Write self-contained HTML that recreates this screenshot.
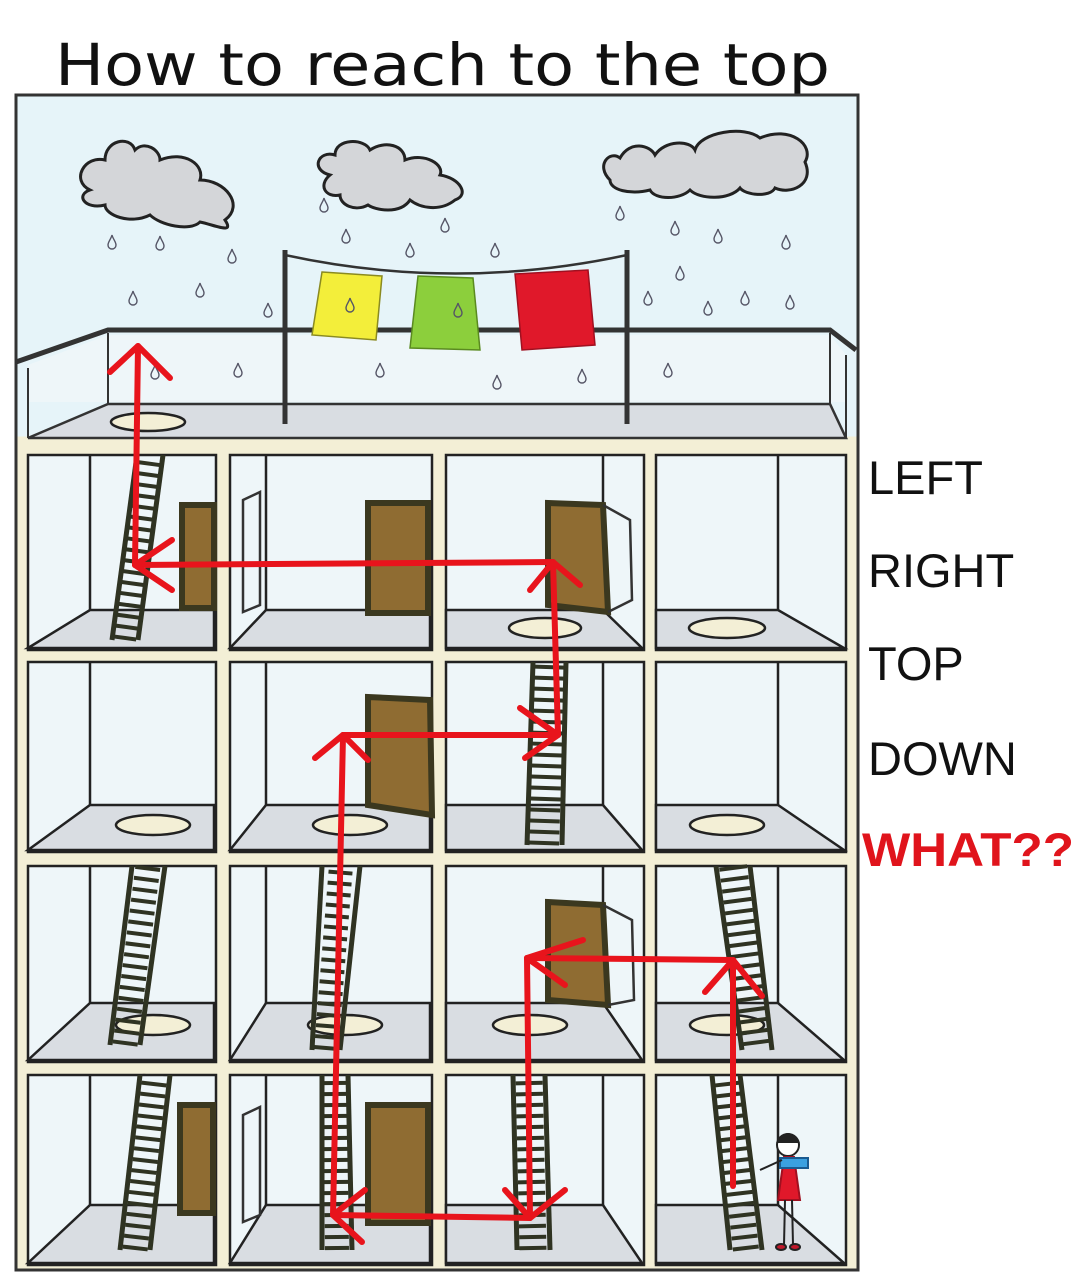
<!DOCTYPE html>
<html><head><meta charset="utf-8"><style>
html,body{margin:0;padding:0;background:#fff}
svg{display:block}
</style></head><body>
<svg width="1074" height="1280" viewBox="0 0 1074 1280" xmlns="http://www.w3.org/2000/svg" font-family="Liberation Sans, sans-serif">
<defs>
<g id="drop"><path d="M0,-7 C-1,-3 -4,0 -4,3 A4,4 0 0 0 4,3 C4,0 1,-3 0,-7Z" fill="none" stroke="#556" stroke-width="1.4"/></g>
</defs>
<rect width="1074" height="1280" fill="#fff"/>
<!-- title -->
<text x="55" y="85" font-size="58" fill="#111" textLength="775" lengthAdjust="spacingAndGlyphs" font-family="DejaVu Sans, sans-serif" font-weight="normal">How to reach to the top</text>
<!-- building -->
<rect x="16" y="95" width="842" height="1175" fill="#f3efd6" stroke="#333" stroke-width="3"/>
<rect x="17.5" y="96.5" width="839" height="340" fill="#e6f4f9"/>
<!-- clouds -->
<g fill="#d4d6d9" stroke="#222" stroke-width="3">
<path d="M90,190 C70,180 85,155 105,160 C105,140 130,135 135,150 C145,140 160,150 160,160 C185,150 205,165 200,180 C225,180 245,205 225,220 C235,235 215,225 200,222 C190,232 160,225 150,215 C130,225 105,215 105,205 C85,210 75,195 90,190Z"/>
<path d="M330,175 C310,170 318,150 335,155 C335,138 365,138 370,150 C385,140 405,145 405,160 C425,152 445,165 440,175 C460,178 470,195 455,200 C440,212 420,208 410,200 C400,215 375,210 368,205 C355,212 340,205 340,195 C325,198 318,185 330,175Z"/>
<path d="M610,180 C595,165 610,150 620,158 C630,140 650,145 655,155 C665,140 690,140 695,150 C700,132 745,125 760,138 C790,125 815,145 805,162 C815,185 790,195 775,188 C770,198 745,195 740,188 C730,200 700,200 690,190 C680,200 655,200 650,190 C630,195 610,190 610,180Z"/>
</g>
<!-- parapet -->
<polygon points="28,365 108,335 830,335 846,355 846,402 28,402" fill="#eef6f9"/>
<polyline points="16,362 108,330 830,330 856,350" fill="none" stroke="#333" stroke-width="5"/>
<line x1="108" y1="333" x2="108" y2="405" stroke="#333" stroke-width="2"/>
<line x1="830" y1="333" x2="830" y2="405" stroke="#333" stroke-width="2"/>
<line x1="28" y1="368" x2="28" y2="438" stroke="#333" stroke-width="2"/>
<line x1="846" y1="355" x2="846" y2="438" stroke="#333" stroke-width="2"/>
<polygon points="108,404 830,404 846,438 28,438" fill="#d9dde2" stroke="#333" stroke-width="2.5"/>
<ellipse cx="148" cy="422" rx="37" ry="9" fill="#f3efd6" stroke="#222" stroke-width="2.5"/>
<!-- clothesline -->
<path d="M285,255 Q455,292 627,255" fill="none" stroke="#333" stroke-width="2.5"/>
<polygon points="322,272 382,276 376,340 312,335" fill="#f3ee3a" stroke="#8a8a20" stroke-width="1.5"/>
<polygon points="418,276 473,278 480,350 410,348" fill="#8ccf3c" stroke="#5a8a20" stroke-width="1.5"/>
<polygon points="515,274 588,270 595,345 522,350" fill="#e0182a" stroke="#a01020" stroke-width="1.5"/>
<line x1="285" y1="250" x2="285" y2="424" stroke="#333" stroke-width="5"/>
<line x1="627" y1="250" x2="627" y2="424" stroke="#333" stroke-width="5"/>
<!-- drops -->
<g>
<use href="#drop" x="112" y="242"/><use href="#drop" x="160" y="243"/><use href="#drop" x="232" y="256"/>
<use href="#drop" x="133" y="298"/><use href="#drop" x="200" y="290"/><use href="#drop" x="268" y="310"/>
<use href="#drop" x="324" y="205"/><use href="#drop" x="346" y="236"/><use href="#drop" x="445" y="225"/>
<use href="#drop" x="410" y="250"/><use href="#drop" x="495" y="250"/><use href="#drop" x="350" y="305"/><use href="#drop" x="458" y="310"/>
<use href="#drop" x="620" y="213"/><use href="#drop" x="675" y="228"/><use href="#drop" x="718" y="236"/><use href="#drop" x="786" y="242"/>
<use href="#drop" x="680" y="273"/><use href="#drop" x="648" y="298"/><use href="#drop" x="708" y="308"/><use href="#drop" x="745" y="298"/><use href="#drop" x="790" y="302"/>
<use href="#drop" x="238" y="370"/><use href="#drop" x="380" y="370"/><use href="#drop" x="497" y="382"/><use href="#drop" x="582" y="376"/><use href="#drop" x="668" y="370"/><use href="#drop" x="155" y="372"/>
</g>
<!-- rooms -->
<g stroke="#222" stroke-width="2.5">
<!-- row template generated per cell -->
<!-- row1 y455-650 floor 610 -->
<rect x="28" y="455" width="188" height="195" fill="#eef6f9"/><polygon points="28,648 90,610 214,610 214,648" fill="#d9dde2"/><line x1="90" y1="455" x2="90" y2="610"/>
<rect x="230" y="455" width="202" height="195" fill="#eef6f9"/><polygon points="230,648 266,610 430,610 430,648" fill="#d9dde2"/><line x1="266" y1="455" x2="266" y2="610"/>
<rect x="446" y="455" width="198" height="195" fill="#eef6f9"/><polygon points="446,610 603,610 642,648 446,648" fill="#d9dde2"/><line x1="603" y1="455" x2="603" y2="610"/>
<rect x="656" y="455" width="190" height="195" fill="#eef6f9"/><polygon points="656,610 778,610 844,648 656,648" fill="#d9dde2"/><line x1="778" y1="455" x2="778" y2="610"/>
<!-- row2 y662-852 floor 805 -->
<rect x="28" y="662" width="188" height="190" fill="#eef6f9"/><polygon points="28,850 90,805 214,805 214,850" fill="#d9dde2"/><line x1="90" y1="662" x2="90" y2="805"/>
<rect x="230" y="662" width="202" height="190" fill="#eef6f9"/><polygon points="230,850 266,805 430,805 430,850" fill="#d9dde2"/><line x1="266" y1="662" x2="266" y2="805"/>
<rect x="446" y="662" width="198" height="190" fill="#eef6f9"/><polygon points="446,805 603,805 642,850 446,850" fill="#d9dde2"/><line x1="603" y1="662" x2="603" y2="805"/>
<rect x="656" y="662" width="190" height="190" fill="#eef6f9"/><polygon points="656,805 778,805 844,850 656,850" fill="#d9dde2"/><line x1="778" y1="662" x2="778" y2="805"/>
<!-- row3 y866-1062 floor 1003 -->
<rect x="28" y="866" width="188" height="196" fill="#eef6f9"/><polygon points="28,1060 90,1003 214,1003 214,1060" fill="#d9dde2"/><line x1="90" y1="866" x2="90" y2="1003"/>
<rect x="230" y="866" width="202" height="196" fill="#eef6f9"/><polygon points="230,1060 266,1003 430,1003 430,1060" fill="#d9dde2"/><line x1="266" y1="866" x2="266" y2="1003"/>
<rect x="446" y="866" width="198" height="196" fill="#eef6f9"/><polygon points="446,1003 603,1003 642,1060 446,1060" fill="#d9dde2"/><line x1="603" y1="866" x2="603" y2="1003"/>
<rect x="656" y="866" width="190" height="196" fill="#eef6f9"/><polygon points="656,1003 778,1003 844,1060 656,1060" fill="#d9dde2"/><line x1="778" y1="866" x2="778" y2="1003"/>
<!-- row4 y1075-1262 floor 1205 -->
<rect x="28" y="1075" width="188" height="190" fill="#eef6f9"/><polygon points="28,1263 90,1205 214,1205 214,1263" fill="#d9dde2"/><line x1="90" y1="1075" x2="90" y2="1205"/>
<rect x="230" y="1075" width="202" height="190" fill="#eef6f9"/><polygon points="230,1263 266,1205 430,1205 430,1263" fill="#d9dde2"/><line x1="266" y1="1075" x2="266" y2="1205"/>
<rect x="446" y="1075" width="198" height="190" fill="#eef6f9"/><polygon points="446,1205 603,1205 642,1263 446,1263" fill="#d9dde2"/><line x1="603" y1="1075" x2="603" y2="1205"/>
<rect x="656" y="1075" width="190" height="190" fill="#eef6f9"/><polygon points="656,1205 778,1205 844,1263 656,1263" fill="#d9dde2"/><line x1="778" y1="1075" x2="778" y2="1205"/>
</g>
<!-- holes -->
<g fill="#f3efd6" stroke="#222" stroke-width="2.5">
<ellipse cx="545" cy="628" rx="36" ry="10"/><ellipse cx="727" cy="628" rx="38" ry="10"/>
<ellipse cx="153" cy="825" rx="37" ry="10"/><ellipse cx="350" cy="825" rx="37" ry="10"/><ellipse cx="727" cy="825" rx="37" ry="10"/>
<ellipse cx="153" cy="1025" rx="37" ry="10"/><ellipse cx="345" cy="1025" rx="37" ry="10"/><ellipse cx="530" cy="1025" rx="37" ry="10"/><ellipse cx="727" cy="1025" rx="37" ry="10"/>
</g>
<!-- ladders: rails + dashed rungs -->
<g stroke="#2f3322">
<g stroke-width="5"><line x1="112" y1="640" x2="137" y2="455"/><line x1="138" y1="640" x2="163" y2="455"/></g>
<line x1="125" y1="640" x2="150" y2="455" stroke-width="22" stroke-dasharray="4 7"/>
<g stroke-width="5"><line x1="527" y1="845" x2="533" y2="662"/><line x1="562" y1="845" x2="566" y2="662"/></g>
<line x1="544" y1="845" x2="550" y2="662" stroke-width="30" stroke-dasharray="4 7"/>
<g stroke-width="5"><line x1="110" y1="1045" x2="132" y2="866"/><line x1="140" y1="1045" x2="165" y2="866"/></g>
<line x1="125" y1="1045" x2="148" y2="866" stroke-width="25" stroke-dasharray="4 7"/>
<g stroke-width="5"><line x1="312" y1="1050" x2="322" y2="866"/><line x1="340" y1="1050" x2="360" y2="866"/></g>
<line x1="326" y1="1050" x2="341" y2="866" stroke-width="24" stroke-dasharray="4 7"/>
<g stroke-width="5"><line x1="716" y1="866" x2="742" y2="1050"/><line x1="750" y1="866" x2="772" y2="1050"/></g>
<line x1="733" y1="866" x2="757" y2="1050" stroke-width="28" stroke-dasharray="4 7"/>
<g stroke-width="5"><line x1="120" y1="1250" x2="140" y2="1075"/><line x1="150" y1="1250" x2="170" y2="1075"/></g>
<line x1="135" y1="1250" x2="155" y2="1075" stroke-width="25" stroke-dasharray="4 7"/>
<g stroke-width="5"><line x1="322" y1="1250" x2="322" y2="1075"/><line x1="352" y1="1250" x2="348" y2="1075"/></g>
<line x1="337" y1="1250" x2="335" y2="1075" stroke-width="24" stroke-dasharray="4 7"/>
<g stroke-width="5"><line x1="517" y1="1250" x2="513" y2="1075"/><line x1="550" y1="1250" x2="545" y2="1075"/></g>
<line x1="533" y1="1250" x2="529" y2="1075" stroke-width="27" stroke-dasharray="4 7"/>
<g stroke-width="5"><line x1="730" y1="1250" x2="712" y2="1075"/><line x1="762" y1="1250" x2="740" y2="1075"/></g>
<line x1="746" y1="1250" x2="726" y2="1075" stroke-width="26" stroke-dasharray="4 7"/>
</g>
<!-- doors -->
<g fill="#8f6c32" stroke="#3b381f" stroke-width="6">
<rect x="182" y="505" width="32" height="103"/>
<rect x="368" y="503" width="60" height="110"/>
<polygon points="548,503 603,505 608,612 548,605"/>
<polygon points="368,697 430,700 432,815 368,805"/>
<polygon points="548,902 603,905 608,1005 548,1000"/>
<rect x="180" y="1105" width="33" height="108"/>
<rect x="368" y="1105" width="60" height="118"/>
</g>
<g fill="none" stroke="#333" stroke-width="2.5">
<polygon points="243,500 260,492 260,605 243,612"/>
<polygon points="243,1115 260,1107 260,1215 243,1222"/>
<polyline points="603,505 630,520 632,600 608,612"/>
<polyline points="603,905 632,920 634,1000 608,1005"/>
</g>
<!-- girl -->
<g stroke="#222" stroke-width="2">
<circle cx="788" cy="1145" r="11" fill="#fff"/>
<path d="M777,1143 Q788,1125 799,1143" fill="#222"/>
<polygon points="784,1157 794,1157 800,1200 778,1200" fill="#e0182a" stroke="#a01020"/>
<rect x="780" y="1158" width="28" height="10" fill="#3ba0e0" stroke="#1a5a90"/>
<line x1="785" y1="1200" x2="784" y2="1245"/><line x1="792" y1="1200" x2="793" y2="1245"/>
<ellipse cx="781" cy="1247" rx="5" ry="3" fill="#c0182a"/><ellipse cx="795" cy="1247" rx="5" ry="3" fill="#c0182a"/>
<line x1="782" y1="1160" x2="760" y2="1170"/>
</g>
<!-- red path -->
<g stroke="#e8141c" stroke-width="6" fill="none" stroke-linecap="round" stroke-linejoin="round">
<polyline points="135,565 138,346"/><polyline points="110,372 138,346 170,378"/>
<polyline points="135,565 553,562"/><polyline points="172,540 135,565 172,590"/>
<polyline points="553,562 558,735"/><polyline points="530,590 553,562 580,585"/>
<polyline points="343,735 558,735"/><polyline points="520,708 558,735 525,758"/>
<polyline points="343,735 333,1215"/><polyline points="315,758 343,735 368,760"/>
<polyline points="333,1215 530,1218"/><polyline points="365,1190 333,1215 362,1242"/>
<polyline points="527,958 530,1218"/><polyline points="505,1190 530,1218 565,1190"/>
<polyline points="527,958 733,960"/><polyline points="583,940 527,958 565,985"/>
<polyline points="733,960 733,1186"/><polyline points="705,992 733,960 762,996"/>
</g>
<!-- right labels -->
<g font-size="47" fill="#111">
<text x="868" y="494">LEFT</text>
<text x="868" y="587">RIGHT</text>
<text x="868" y="680">TOP</text>
<text x="868" y="775">DOWN</text>
<text x="862" y="866" fill="#e0141c" font-weight="bold" textLength="212" lengthAdjust="spacingAndGlyphs">WHAT??</text>
</g>
</svg>
</body></html>
